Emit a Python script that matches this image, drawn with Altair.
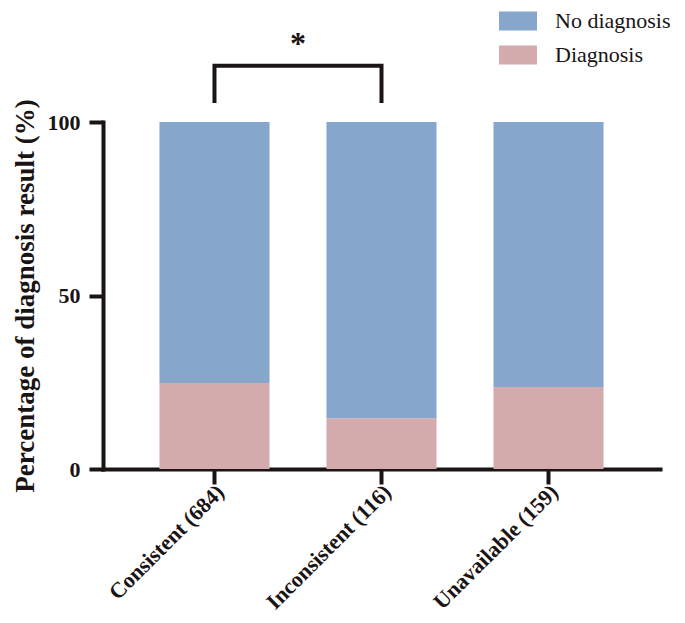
import altair as alt
import pandas as pd

categories = ["Consistent (684)", "Inconsistent (116)", "Unavailable (159)"]
diagnosis = [24.8, 14.6, 23.6]
no_diagnosis = [75.2, 85.4, 76.4]
groups = ["No diagnosis", "Diagnosis"]
colors = ["#86A6CC", "#D3ABAD"]

# significance bracket between first two groups
bracket_cats = ["Consistent (684)", "Consistent (684)", "Inconsistent (116)", "Inconsistent (116)"]
bracket_y = [105.5, 116.2, 116.2, 105.5]
star_y = [122.5]

rows = []
for c, d, n in zip(categories, diagnosis, no_diagnosis):
    rows.append({"cat": c, "group": "Diagnosis", "value": d, "ord": 0})
    rows.append({"cat": c, "group": "No diagnosis", "value": n, "ord": 1})
df = pd.DataFrame(rows)

bracket = pd.DataFrame({"cat": bracket_cats, "y": bracket_y, "i": list(range(len(bracket_y)))})
star = pd.DataFrame({"cat": [categories[0]], "y": star_y})

INK = "#1a1414"
FONT = "Liberation Serif"

xscale = alt.Scale(domain=categories, paddingInner=0.341, paddingOuter=0.338)
yscale = alt.Scale(domain=[0, 100], nice=False)

bars = alt.Chart(df).mark_bar().encode(
    x=alt.X("cat:N", scale=xscale, sort=categories,
            axis=alt.Axis(title=None, labelAngle=-45, labelAlign="right",
                          labelBaseline="middle", labelPadding=4, labelOffset=6,
                          tickSize=15, labelFontSize=22)),
    y=alt.Y("value:Q", stack="zero", scale=yscale,
            axis=alt.Axis(values=[0, 50, 100], title="Percentage of diagnosis result (%)",
                          tickSize=14, labelPadding=9, titlePadding=8,
                          titleFontSize=27, titleFont=FONT, titleFontWeight="bold",
                          titleColor=INK)),
    color=alt.Color("group:N", scale=alt.Scale(domain=groups, range=colors),
                    legend=alt.Legend(title=None, orient="none", legendX=396, legendY=-120,
                                      direction="vertical",
                                      symbolType="M-1,-0.5L1,-0.5L1,0.5L-1,0.5Z",
                                      symbolSize=1444, symbolStrokeWidth=0, symbolOpacity=1,
                                      labelFont=FONT, labelFontSize=22, labelColor=INK,
                                      labelOffset=18, rowPadding=4, padding=0,
                                      labelLimit=300)),
    order=alt.Order("ord:Q"),
)

line = alt.Chart(bracket).mark_line(color=INK, strokeWidth=4, strokeJoin="miter").encode(
    x=alt.X("cat:N", scale=xscale, sort=categories),
    y=alt.Y("y:Q", scale=yscale),
    order="i:Q",
)

text = alt.Chart(star).mark_text(text="*", fontSize=32, fontWeight="bold", font=FONT,
                                 color=INK, dx=83.5, baseline="middle").encode(
    x=alt.X("cat:N", scale=xscale, sort=categories),
    y=alt.Y("y:Q", scale=yscale),
)

chart = alt.layer(bars, line, text).properties(
    width=557, height=347, autosize="none",
    padding={"left": 95, "top": 114, "right": 17, "bottom": 146},
).configure_view(stroke=None).configure_axis(
    grid=False, domainColor=INK, domainWidth=4, domainCap="square",
    tickColor=INK, tickWidth=4, labelFont=FONT, labelFontWeight="bold",
    labelFontSize=22, labelColor=INK,
)

chart.save("out.html", embed_options={"renderer": "svg", "actions": False})
